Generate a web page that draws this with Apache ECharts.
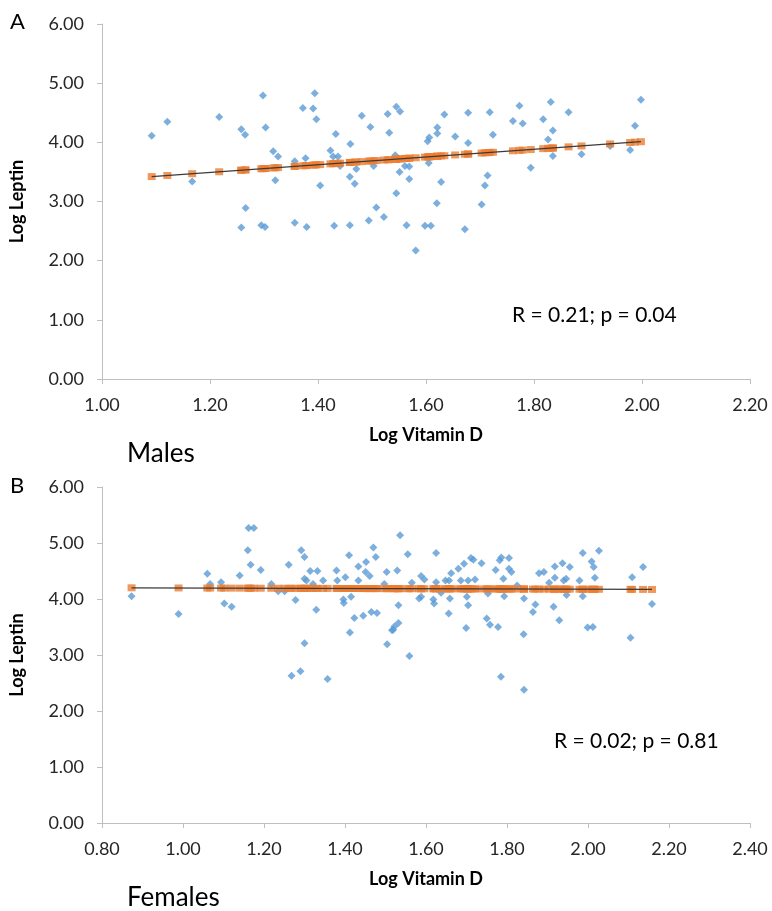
<!DOCTYPE html>
<html>
  <head>
    <title></title>
    <meta charset="UTF-8" />
    <script src="https://cdn.jsdelivr.net/npm/echarts@6/dist/echarts.min.js"></script>
  </head>
  <body style="margin:0">
    <div id="main"></div>
    <script>
      const width = 772;
      const height = 911;
      const main = document.getElementById('main');
      main.style.width = `${width}px`;
      main.style.height = `${height}px`;

      // males: log vitamin D vs log leptin
      const maleVitD = [1.092, 1.121, 1.167, 1.217, 1.258, 1.265, 1.298, 1.303, 1.317, 1.326, 1.321, 1.357, 1.377, 1.372, 1.391, 1.394, 1.397, 1.404, 1.423, 1.433, 1.428, 1.437, 1.441, 1.460, 1.459, 1.471, 1.468, 1.481, 1.497, 1.503, 1.529, 1.532, 1.545, 1.545, 1.552, 1.551,
        1.543, 1.561, 1.569, 1.569, 1.603, 1.606, 1.621, 1.621, 1.634, 1.605, 1.628, 1.654, 1.678, 1.678, 1.718, 1.724, 1.714, 1.709, 1.761, 1.773, 1.779, 1.794, 1.817, 1.831, 1.826, 1.835, 1.835, 1.864, 1.888, 1.941, 1.978, 1.987, 1.998,
        1.266, 1.258, 1.295, 1.302, 1.357, 1.379, 1.430, 1.459, 1.494, 1.508, 1.522, 1.564, 1.581, 1.598, 1.609, 1.620, 1.672, 1.703];
      const maleLeptin = [4.11, 4.35, 3.34, 4.43, 4.22, 4.13, 4.79, 4.25, 3.85, 3.76, 3.36, 3.68, 3.73, 4.58, 4.57, 4.83, 4.39, 3.27, 3.86, 4.14, 3.76, 3.76, 3.60, 3.97, 3.42, 3.55, 3.30, 4.45, 4.26, 3.60, 4.48, 4.16, 3.14, 4.60, 4.52, 3.50,
        3.78, 3.60, 3.59, 3.38, 4.02, 4.08, 4.25, 4.15, 4.47, 3.65, 3.33, 4.10, 4.50, 3.99, 4.51, 4.13, 3.44, 3.27, 4.36, 4.62, 4.32, 3.57, 4.39, 4.68, 4.05, 4.20, 3.77, 4.51, 3.80, 3.94, 3.87, 4.28, 4.72,
        2.89, 2.56, 2.60, 2.57, 2.64, 2.57, 2.59, 2.60, 2.68, 2.90, 2.74, 2.60, 2.17, 2.59, 2.59, 2.97, 2.53, 2.95];
      const maleTrend = [2.71, 0.651]; // intercept, slope

      // females
      const femaleVitD = [0.873, 0.989, 1.060, 1.067, 1.094, 1.102, 1.120, 1.140, 1.160, 1.162, 1.175, 1.167, 1.192, 1.218, 1.235, 1.251, 1.261, 1.278, 1.292, 1.300, 1.300, 1.305, 1.314, 1.300, 1.321, 1.329, 1.332, 1.346, 1.379, 1.381, 1.396, 1.397, 1.401, 1.410, 1.412, 1.415, 1.423, 1.433, 1.433, 1.445, 1.451, 1.452, 1.461, 1.465, 1.470, 1.476, 1.479,
        1.503, 1.504, 1.522, 1.532, 1.529, 1.532, 1.536, 1.497, 1.516, 1.555, 1.565, 1.588, 1.596, 1.583, 1.588, 1.618, 1.620, 1.625, 1.637, 1.625, 1.648, 1.657, 1.659, 1.656, 1.662, 1.680, 1.686, 1.694, 1.701, 1.704, 1.699, 1.704, 1.711, 1.717, 1.721, 1.737,
        1.750, 1.753, 1.758, 1.772, 1.778, 1.782, 1.786, 1.791, 1.793, 1.805, 1.805, 1.811, 1.825, 1.842, 1.841, 1.864, 1.870, 1.879, 1.891, 1.904, 1.915, 1.918, 1.918, 1.929, 1.937, 1.940, 1.946, 1.947, 1.955, 1.979, 1.987, 1.987, 1.999, 2.012, 2.009, 2.014, 2.017, 2.027,
        2.105, 2.109, 2.136, 2.158, 1.268, 1.290, 1.357, 1.519, 1.559, 1.785, 1.842];
      const femaleLeptin = [4.05, 3.73, 4.45, 4.27, 4.30, 3.92, 3.86, 4.42, 4.87, 5.27, 5.27, 4.61, 4.52, 4.27, 4.14, 4.14, 4.61, 3.98, 4.87, 4.75, 4.36, 4.33, 4.50, 3.21, 4.27, 3.81, 4.50, 4.33, 4.51, 4.33, 3.99, 3.93, 4.39, 4.78, 3.40, 4.04, 3.66, 4.58, 4.33, 3.70, 4.48, 4.66, 4.41, 3.77, 4.92, 4.75, 3.75,
        4.48, 3.19, 3.51, 3.57, 4.51, 3.89, 5.14, 4.27, 3.44, 4.80, 4.29, 4.41, 4.35, 4.01, 4.04, 3.99, 3.92, 4.82, 4.11, 4.30, 4.33, 4.33, 4.01, 3.74, 4.46, 4.54, 4.33, 4.63, 4.04, 3.89, 3.48, 4.33, 4.73, 4.70, 4.35, 4.64,
        3.65, 4.10, 3.54, 4.52, 3.50, 4.69, 4.74, 4.36, 4.05, 4.73, 4.54, 4.48, 4.24, 4.01, 3.37, 3.77, 3.90, 4.46, 4.48, 4.29, 3.86, 4.38, 4.58, 3.62, 4.64, 4.33, 4.36, 4.07, 4.57, 4.33, 4.82, 4.05, 3.49, 3.50, 4.67, 4.57, 4.38, 4.86,
        3.31, 4.39, 4.57, 3.91, 2.63, 2.71, 2.57, 3.45, 2.98, 2.61, 2.38];
      const femaleTrend = [4.22, -0.023];

      const yTicks = [0, 1, 2, 3, 4, 5, 6];
      const statsText = ['R = 0.21; p = 0.04', 'R = 0.02; p = 0.81'];
      const panelNames = ['Males', 'Females'];

      const font = 'Lato, "Open Sans", sans-serif';
      const blue = '#5b9bd5';
      const orange = '#ed7d31';

      const pairs = (xs, ys) => xs.map((x, i) => [x, ys[i]]);
      const predicted = (xs, t) => xs.map(x => [x, t[0] + t[1] * x]);
      const fitLine = (xs, t) => {
        const lo = Math.min(...xs), hi = Math.max(...xs);
        return [[lo, t[0] + t[1] * lo], [hi, t[0] + t[1] * hi]];
      };

      const xAxisBase = (idx, min, max) => ({
        gridIndex: idx,
        type: 'value',
        min, max, interval: 0.2,
        name: 'Log Vitamin D',
        nameLocation: 'middle',
        nameGap: 47,
        nameTextStyle: {fontFamily: font, fontWeight: 'bold', fontSize: 18, color: '#000'},
        axisLine: {lineStyle: {color: '#bfbfbf', width: 1}},
        axisTick: {length: 5, lineStyle: {color: '#bfbfbf'}},
        axisLabel: {fontFamily: font, fontSize: 18, color: '#262626', margin: 17, formatter: v => v.toFixed(2)},
        splitLine: {show: false}
      });
      const yAxisBase = idx => ({
        gridIndex: idx,
        type: 'value',
        min: yTicks[0], max: yTicks[yTicks.length - 1], interval: 1,
        name: 'Log Leptin',
        nameLocation: 'middle',
        nameGap: 76,
        nameTextStyle: {fontFamily: font, fontWeight: 'bold', fontSize: 18, color: '#000'},
        axisLine: {show: true, lineStyle: {color: '#bfbfbf', width: 1}},
        axisTick: {show: true, length: 5, lineStyle: {color: '#bfbfbf'}},
        axisLabel: {fontFamily: font, fontSize: 18, color: '#262626', margin: 18, formatter: v => v.toFixed(2)},
        splitLine: {show: false}
      });

      const scatterSeries = (idx, data) => ({
        type: 'scatter', xAxisIndex: idx, yAxisIndex: idx,
        symbol: 'diamond', symbolSize: 8,
        itemStyle: {color: blue},
        data, z: 2
      });
      const predSeries = (idx, data) => ({
        type: 'scatter', xAxisIndex: idx, yAxisIndex: idx,
        symbol: 'rect', symbolSize: [8, 7],
        itemStyle: {color: orange},
        data, z: 3
      });
      const lineSeries = (idx, data) => ({
        type: 'line', xAxisIndex: idx, yAxisIndex: idx,
        symbol: 'none',
        lineStyle: {color: '#3a3a3a', width: 1.2},
        data, z: 4
      });

      const myChart = echarts.init(main);
      const option = {
        animation: false,
        backgroundColor: '#fff',
        grid: [
          {left: 100, top: 24, width: 650, height: 355},
          {left: 100, top: 487, width: 650, height: 336}
        ],
        xAxis: [xAxisBase(0, 1.0, 2.2), xAxisBase(1, 0.8, 2.4)],
        yAxis: [yAxisBase(0), yAxisBase(1)],
        series: [
          scatterSeries(0, pairs(maleVitD, maleLeptin)),
          predSeries(0, predicted(maleVitD, maleTrend)),
          lineSeries(0, fitLine(maleVitD, maleTrend)),
          scatterSeries(1, pairs(femaleVitD, femaleLeptin)),
          predSeries(1, predicted(femaleVitD, femaleTrend)),
          lineSeries(1, fitLine(femaleVitD, femaleTrend))
        ],
        graphic: [
          {type: 'text', left: 10, top: 11, style: {text: 'A', font: `22px ${font}`, fill: '#000'}},
          {type: 'text', left: 10, top: 475, style: {text: 'B', font: `22px ${font}`, fill: '#000'}},
          {type: 'text', left: 127, top: 441, style: {text: panelNames[0], font: `26px ${font}`, fill: '#000'}},
          {type: 'text', left: 127, top: 885, style: {text: panelNames[1], font: `26px ${font}`, fill: '#000'}},
          {type: 'text', left: 512, top: 305, style: {text: statsText[0], font: `21px ${font}`, fill: '#000'}},
          {type: 'text', left: 554, top: 731, style: {text: statsText[1], font: `21px ${font}`, fill: '#000'}}
        ]
      };
      myChart.setOption(option);
    </script>
  </body>
</html>
